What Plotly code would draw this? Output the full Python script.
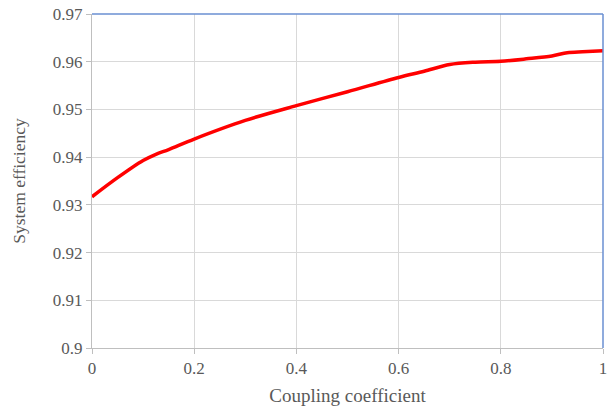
import plotly.graph_objects as go

# Coupling coefficient vs. system efficiency
coupling = [0.0, 0.05, 0.1, 0.125, 0.15, 0.2, 0.3, 0.4, 0.5, 0.6, 0.65, 0.7,
            0.75, 0.8, 0.85, 0.9, 0.93, 0.96, 1.0]
efficiency = [0.9317, 0.9357, 0.9393, 0.9406, 0.9416, 0.9438, 0.9477, 0.9508,
              0.9537, 0.9567, 0.9580, 0.9594, 0.9599, 0.9601, 0.9606, 0.9612,
              0.9619, 0.9621, 0.9623]

x_ticks = [0, 0.2, 0.4, 0.6, 0.8, 1]
x_tick_text = ["0", "0.2", "0.4", "0.6", "0.8", "1"]
y_ticks = [0.9, 0.91, 0.92, 0.93, 0.94, 0.95, 0.96, 0.97]
y_tick_text = ["0.9", "0.91", "0.92", "0.93", "0.94", "0.95", "0.96", "0.97"]

FONT = "Liberation Serif, Times New Roman, serif"
TEXT = "#595959"
GRID = "#d9d9d9"
AXIS = "#bfbfbf"
FRAME = "#6a8fd2"

fig = go.Figure(
    go.Scatter(
        x=coupling, y=efficiency, mode="lines",
        line=dict(color="#ff0000", width=3.5, shape="spline", smoothing=0.9),
        hoverinfo="skip",
    )
)

fig.update_layout(
    width=616, height=406,
    margin=dict(l=92, r=13, t=14, b=58),
    paper_bgcolor="white", plot_bgcolor="white",
    showlegend=False,
    font=dict(family=FONT, color=TEXT, size=17),
    xaxis=dict(
        range=[0, 1], tickvals=x_ticks, ticktext=x_tick_text,
        automargin=False,
        showgrid=True, gridcolor=GRID, gridwidth=1,
        showline=True, linecolor=AXIS, linewidth=1,
        ticks="outside", ticklen=5, tickcolor=AXIS,
        zeroline=False,
        title=dict(text="Coupling coefficient", font=dict(size=19, family=FONT, color=TEXT), standoff=12),
        tickfont=dict(size=17, family=FONT, color=TEXT),
    ),
    yaxis=dict(
        range=[0.9, 0.97], tickvals=y_ticks, ticktext=y_tick_text,
        automargin=False,
        showgrid=True, gridcolor=GRID, gridwidth=1,
        showline=True, linecolor=AXIS, linewidth=1,
        ticks="outside", ticklen=5, tickcolor=AXIS,
        zeroline=False,
        title=dict(text="System efficiency", font=dict(size=17.5, family=FONT, color=TEXT), standoff=22),
        tickfont=dict(size=17, family=FONT, color=TEXT),
    ),
)

# blue frame along the top and right edges of the plot area
fig.add_shape(type="line", xref="x domain", yref="y domain", x0=0, x1=1, y0=1, y1=1,
              line=dict(color=FRAME, width=1.5))
fig.add_shape(type="line", xref="x domain", yref="y domain", x0=1, x1=1, y0=0, y1=1,
              line=dict(color=FRAME, width=1.5))

fig.write_html("out.html")
